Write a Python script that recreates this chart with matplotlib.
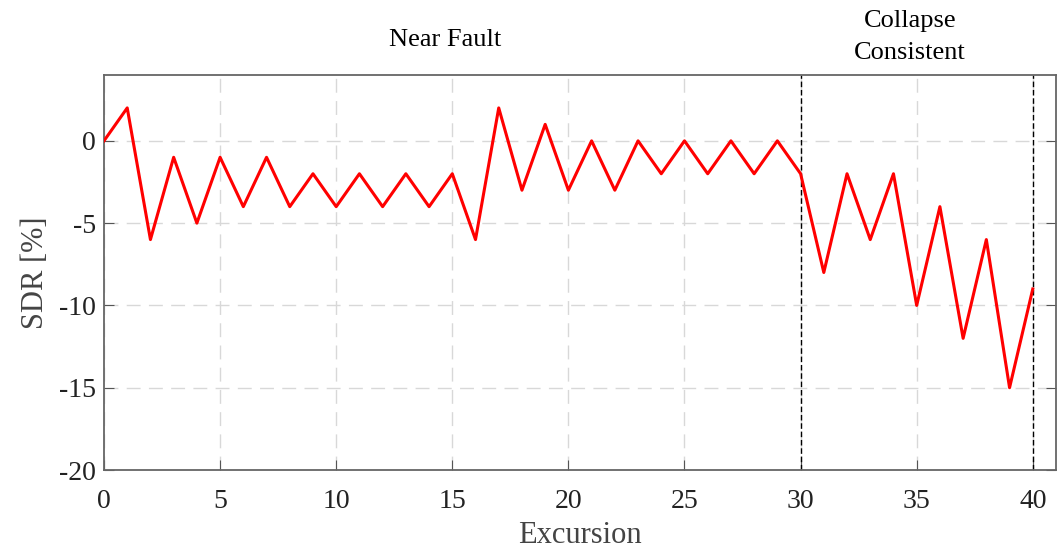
import matplotlib
matplotlib.use("Agg")
import matplotlib.pyplot as plt
import numpy as np

excursion = np.arange(0, 41)
sdr = [0, 2, -6, -1, -5, -1, -4, -1, -4, -2,
       -4, -2, -4, -2, -4, -2, -6, 2, -3, 1,
       -3, 0, -3, 0, -2, 0, -2, 0, -2, 0,
       -2, -8, -2, -6, -2, -10, -4, -12, -6, -15,
       -9]
phase_bounds = [30, 40]

plt.rcParams['font.family'] = ['Liberation Serif', 'DejaVu Serif']
plt.rcParams['axes.unicode_minus'] = False

fig = plt.figure(figsize=(10.64, 5.53), dpi=100)
ax = fig.add_axes([104/1064, 1 - 470/553, (1056-104)/1064, (470-75)/553])

ax.plot(excursion, sdr, color='red', linewidth=2.2, zorder=3)
for b in phase_bounds:
    ax.axvline(b, color='black', linestyle='--', linewidth=1.0, dashes=(4, 2), zorder=2)

ax.set_xlim(0, 41)
ax.set_ylim(-20, 4)
ax.set_xticks(np.arange(0, 41, 5))
ax.set_yticks(np.arange(-20, 1, 5))
ax.grid(True, color='#d8d8d8', linestyle=(0, (10, 6)), linewidth=1.0)
ax.tick_params(direction='in', labelsize=20, colors='#555555', length=7,
               labelcolor='#222222', right=True)
ax.tick_params(axis='x', pad=14)
ax.tick_params(axis='y', pad=6)
for s in ax.spines.values():
    s.set_color('#666666')
    s.set_linewidth(1.3)

ax.set_xlabel('Excursion', fontsize=22, color='#444444', labelpad=5)
ax.set_ylabel('SDR [%]', fontsize=22, color='#444444', labelpad=6)

fig.text(445/1064, 1 - 40/553, 'Near Fault', fontsize=19, ha='center', va='center')
fig.text(910/1064, 1 - 37/553, 'Collapse\nConsistent', fontsize=19, ha='center', va='center',
         linespacing=1.6)

fig.savefig('out.png', dpi=100)
